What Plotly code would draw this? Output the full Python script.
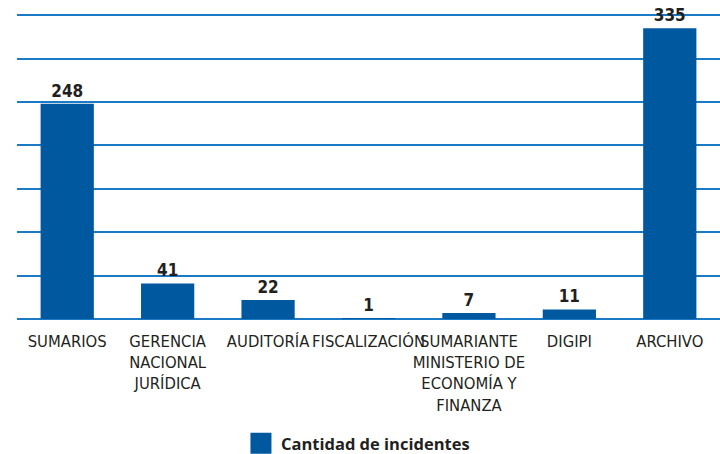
import plotly.graph_objects as go

categories = ["SUMARIOS", "GERENCIA<br>NACIONAL<br>JURÍDICA", "AUDITORÍA", "FISCALIZACIÓN",
              "SUMARIANTE<br>MINISTERIO DE<br>ECONOMÍA Y<br>FINANZA", "DIGIPI", "ARCHIVO"]
values = [248, 41, 22, 1, 7, 11, 335]
series_name = "Cantidad de incidentes"

FONT = "DejaVu Sans Condensed, sans-serif"
BAR = "#00589f"
GRID = "#1a7ac6"
TXT = "#231f20"

fig = go.Figure()
fig.add_trace(go.Bar(
    x=categories, y=values, name=series_name, showlegend=False, legendgroup="s",
    marker=dict(color=BAR, line=dict(width=0)),
    text=[str(v) for v in values], textposition="outside",
    textfont=dict(family=FONT, size=17, color=TXT, weight="bold"),
    cliponaxis=False,
))
# legend entry for the series (larger square symbol like the reference)
fig.add_trace(go.Scatter(
    x=[categories[0]], y=[None], name=series_name, legendgroup="s", mode="markers",
    marker=dict(symbol="square", size=16, color=BAR, line=dict(width=5, color=BAR)),
    hoverinfo="skip",
))

fig.update_layout(
    width=720, height=454,
    margin=dict(l=17, r=0, t=10, b=135, autoexpand=False),
    plot_bgcolor="white", paper_bgcolor="white",
    bargap=0.47,
    showlegend=True,
    legend=dict(orientation="h", x=0.485, xanchor="center", y=-0.403, yanchor="middle",
                itemsizing="trace",
                font=dict(family="Open Sans, Noto Sans, sans-serif", size=16.5, color=TXT, weight="bold")),
    font=dict(family=FONT, color=TXT),
)
fig.update_xaxes(showline=False, ticks="", tickangle=0, showgrid=False, ticklabelstandoff=10,
                 tickfont=dict(family=FONT, size=16.5, color=TXT))
fig.update_yaxes(range=[0, 356], dtick=50, showgrid=True, gridcolor=GRID, gridwidth=2,
                 zeroline=True, zerolinecolor=GRID, zerolinewidth=2,
                 showticklabels=False, ticks="")

fig.write_html("out.html", config={"displayModeBar": False},
               post_script="document.body.style.margin='0';document.body.style.overflow='hidden';")
